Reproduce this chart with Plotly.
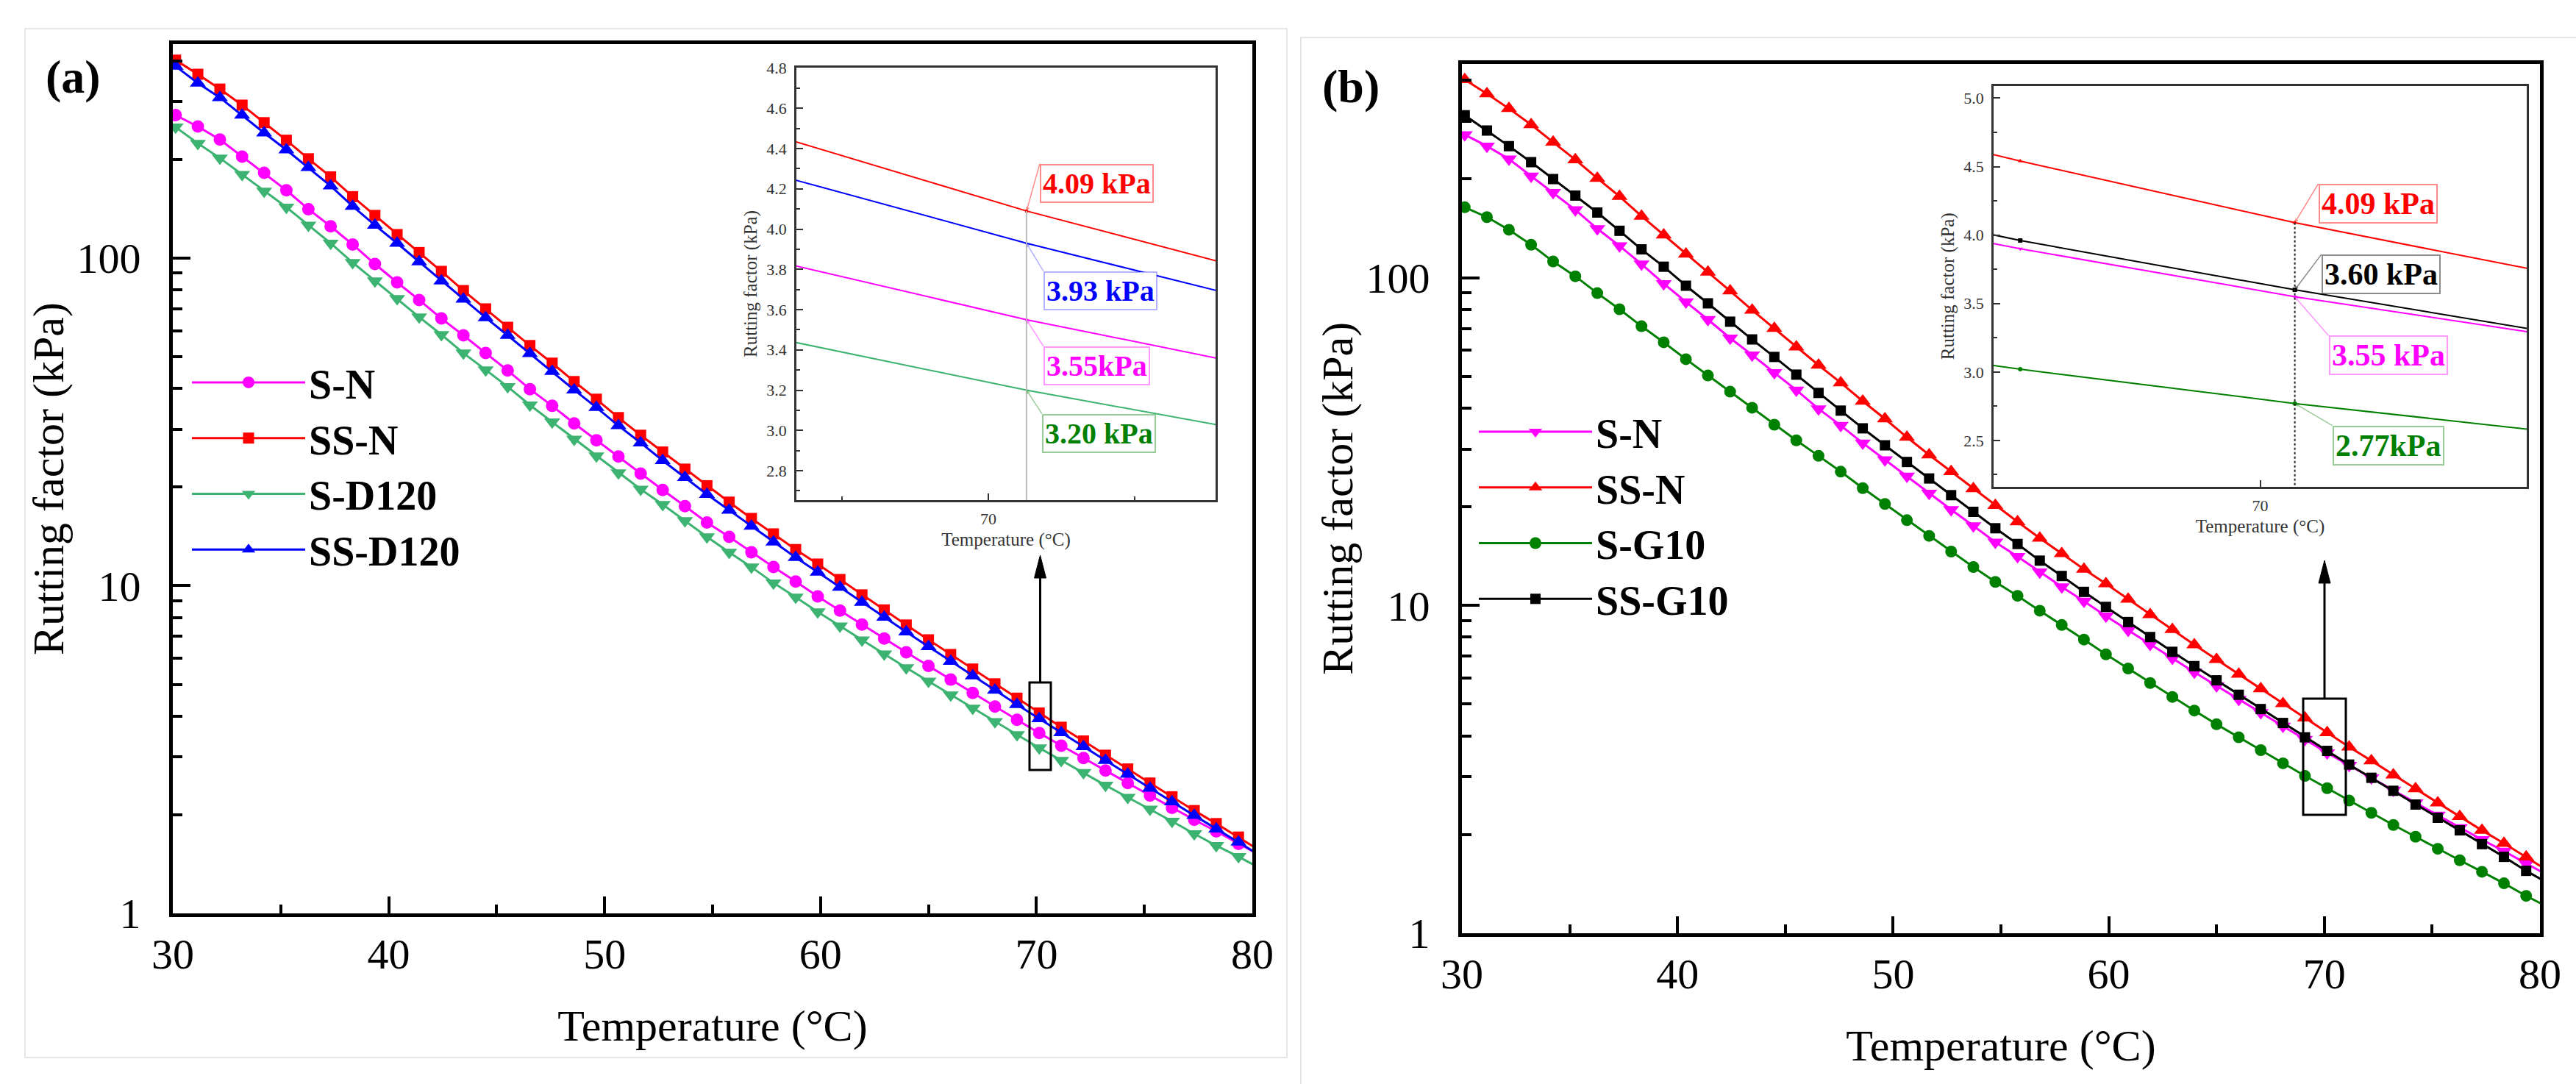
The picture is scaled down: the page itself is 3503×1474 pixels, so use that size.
import plotly.graph_objects as go

W, H = 3503, 1474
FONT = "Liberation Serif"

# ---------------- data ----------------
temps = [30.13, 31.16, 32.18, 33.21, 34.23, 35.26, 36.28, 37.31, 38.33, 39.36,
         40.39, 41.41, 42.44, 43.46, 44.49, 45.51, 46.54, 47.57, 48.59, 49.62,
         50.64, 51.67, 52.69, 53.72, 54.74, 55.77, 56.80, 57.82, 58.85, 59.87,
         60.90, 61.92, 62.95, 63.97, 65.00, 66.03, 67.05, 68.08, 69.10, 70.13,
         71.15, 72.18, 73.20, 74.23, 75.26, 76.28, 77.31, 78.33, 79.36, 80.38]

s_n = [273, 252, 230, 204, 182, 161, 141, 125, 110, 95.9,
       84.3, 74.5, 65.4, 58.1, 51.3, 45.4, 39.8, 35.4, 31.3, 27.8,
       24.8, 22.0, 19.6, 17.5, 15.6, 14.1, 12.65, 11.4, 10.3, 9.28,
       8.40, 7.61, 6.90, 6.26, 5.69, 5.17, 4.71, 4.28, 3.90, 3.55,
       3.25, 2.98, 2.73, 2.50, 2.29, 2.10, 1.93, 1.78, 1.63, 1.50]

ss_n = [402, 364, 328, 293, 259, 229, 201, 177, 154, 135,
        118, 104, 91.1, 79.6, 70.0, 61.5, 54.1, 47.8, 42.0, 37.1,
        32.6, 28.8, 25.6, 22.7, 20.2, 18.0, 16.05, 14.4, 12.9, 11.65,
        10.45, 9.38, 8.44, 7.59, 6.84, 6.17, 5.57, 5.02, 4.54, 4.09,
        3.70, 3.36, 3.04, 2.76, 2.50, 2.27, 2.06, 1.88, 1.71, 1.55]

s_d120 = [251, 224, 202, 180, 160, 143, 126, 111, 96.9, 85.2,
          75.2, 66.1, 58.4, 51.3, 45.6, 40.5, 35.6, 31.6, 28.0, 24.9,
          22.1, 19.7, 17.7, 15.8, 14.1, 12.65, 11.4, 10.2, 9.23, 8.32,
          7.53, 6.83, 6.19, 5.62, 5.11, 4.64, 4.23, 3.85, 3.51, 3.20,
          2.93, 2.69, 2.46, 2.26, 2.08, 1.91, 1.75, 1.61, 1.49, 1.37]

ss_d120 = [385, 342, 309, 273, 241, 214, 189, 166, 144, 126,
           111, 97.4, 85.2, 74.9, 65.8, 58.1, 51.1, 45.1, 39.6, 35.0,
           30.8, 27.3, 24.1, 21.4, 19.0, 17.0, 15.2, 13.6, 12.2, 11.0,
           9.89, 8.90, 8.02, 7.23, 6.52, 5.88, 5.31, 4.80, 4.34, 3.93,
           3.56, 3.23, 2.93, 2.66, 2.41, 2.19, 1.99, 1.81, 1.65, 1.50]

s_g10 = [164, 153, 140, 126, 112, 101, 89.7, 80.1, 71.1, 63.5,
         56.4, 50.3, 44.9, 40.1, 35.6, 31.9, 28.6, 25.6, 22.8, 20.4,
         18.2, 16.3, 14.6, 13.1, 11.8, 10.7, 9.64, 8.72, 7.87, 7.09,
         6.42, 5.80, 5.26, 4.78, 4.34, 3.96, 3.62, 3.30, 3.02, 2.77,
         2.54, 2.33, 2.14, 1.97, 1.81, 1.67, 1.54, 1.42, 1.30, 1.20]

ss_g10 = [313, 281, 252, 225, 200, 178, 158, 139, 122, 108,
          94.5, 83.5, 73.4, 64.8, 57.3, 50.6, 44.5, 39.3, 34.7, 30.8,
          27.4, 24.4, 21.7, 19.3, 17.2, 15.4, 13.7, 12.3, 11.0, 9.90,
          8.90, 8.01, 7.22, 6.53, 5.91, 5.34, 4.83, 4.38, 3.96, 3.60,
          3.27, 2.98, 2.72, 2.47, 2.25, 2.06, 1.87, 1.71, 1.55, 1.42]

x_major = [30, 40, 50, 60, 70, 80]
x_minor = [35, 45, 55, 65, 75]
y_major = [1, 10, 100]
y_minor = [2, 3, 4, 5, 6, 7, 8, 9, 20, 30, 40, 50, 60, 70, 80, 90, 200, 300, 400]
inset_a_y = [2.8, 3.0, 3.2, 3.4, 3.6, 3.8, 4.0, 4.2, 4.4, 4.6, 4.8]
inset_a_ym = [2.7, 2.9, 3.1, 3.3, 3.5, 3.7, 3.9, 4.1, 4.3, 4.5, 4.7]
inset_b_y = [2.5, 3.0, 3.5, 4.0, 4.5, 5.0]
inset_b_ym = [2.25, 2.75, 3.25, 3.75, 4.25, 4.75]
inset_x = [70]
inset_a_xm = [69.5, 70.5]
mark = 39  # index of the 70 °C point that is labelled in the insets

# series: name, values, colour, symbol, size
series_a = [("S-N", s_n, "#ff00ff", "circle", 17),
            ("SS-N", ss_n, "#ff0000", "square", 15),
            ("S-D120", s_d120, "#3cb371", "triangle-down", 19),
            ("SS-D120", ss_d120, "#0000ff", "triangle-up", 19)]
series_b = [("S-N", s_n, "#ff00ff", "triangle-down", 19),
            ("SS-N", ss_n, "#ff0000", "triangle-up", 19),
            ("S-G10", s_g10, "#008000", "circle", 16),
            ("SS-G10", ss_g10, "#000000", "square", 14)]


def fx(p):
    return p / W


def fy(p):
    return 1 - p / H


fig = go.Figure()

for name, vals, col, sym, sz in series_a:
    fig.add_trace(go.Scatter(x=temps, y=vals, name=name, mode="lines+markers",
                             line=dict(color=col, width=3),
                             marker=dict(symbol=sym, size=sz, color=col),
                             xaxis="x", yaxis="y", legend="legend"))
for name, vals, col, sym, sz in series_b:
    fig.add_trace(go.Scatter(x=temps, y=vals, name=name, mode="lines+markers",
                             line=dict(color=col, width=3),
                             marker=dict(symbol=sym, size=sz, color=col),
                             xaxis="x2", yaxis="y2", legend="legend2"))
# insets (same data, zoomed)
for name, vals, col, sym, sz in series_a:
    fig.add_trace(go.Scatter(x=temps, y=vals, name=name, mode="lines+markers",
                             line=dict(color=col, width=2),
                             marker=dict(symbol=sym, size=4, color=col),
                             xaxis="x3", yaxis="y3", showlegend=False))
for name, vals, col, sym, sz in series_b:
    fig.add_trace(go.Scatter(x=temps, y=vals, name=name, mode="lines+markers",
                             line=dict(color=col, width=2),
                             marker=dict(symbol=sym, size=6, color=col),
                             xaxis="x4", yaxis="y4", showlegend=False))

tickfont = dict(family=FONT, size=58, color="black")
titlefont = dict(family=FONT, size=60, color="black")


def main_x(dom, anchor):
    return dict(domain=dom, anchor=anchor, range=[30, 80], tickmode="array",
                tickvals=x_major, ticks="inside", ticklen=23, tickwidth=4,
                tickcolor="black", ticklabelstandoff=0, automargin=False,
                minor=dict(tickmode="array", tickvals=x_minor, ticks="inside",
                           ticklen=12, tickwidth=3.5, tickcolor="black"),
                showline=True, linewidth=5, linecolor="black", mirror=True,
                showgrid=False, zeroline=False, tickfont=tickfont,
                title=dict(text="Temperature (°C)", font=titlefont, standoff=46))


def main_y(dom, anchor):
    return dict(domain=dom, anchor=anchor, type="log", range=[0, 2.653],
                tickmode="array", tickvals=y_major, ticktext=["1", "10", "100"],
                ticks="inside", ticklen=24, tickwidth=4, tickcolor="black",
                ticklabelstandoff=27, automargin=False,
                minor=dict(tickmode="array", tickvals=y_minor, ticks="inside",
                           ticklen=13, tickwidth=3.5, tickcolor="black"),
                showline=True, linewidth=5, linecolor="black", mirror=True,
                showgrid=False, zeroline=False, tickfont=tickfont,
                title=dict(text="Rutting factor (kPa)", font=titlefont, standoff=0))


ifont = dict(family=FONT, size=22, color="#333333")
ititle = dict(family=FONT, size=25, color="#333333")


def inset_x_axis(dom, anchor, rng, minor_vals):
    d = dict(domain=dom, anchor=anchor, range=rng, tickmode="array", tickvals=inset_x,
             ticks="inside", ticklen=9, tickwidth=2, tickcolor="#333333",
             ticklabelstandoff=4, automargin=False,
             showline=True, linewidth=2.5, linecolor="#333333",
             mirror=True, showgrid=False, zeroline=False, tickfont=ifont,
             title=dict(text="Temperature (°C)", font=ititle, standoff=8))
    if minor_vals:
        d["minor"] = dict(tickmode="array", tickvals=minor_vals, ticks="inside",
                          ticklen=5, tickwidth=2, tickcolor="#333333")
    return d


def inset_y_axis(dom, anchor, rng, major, minor_vals):
    return dict(domain=dom, anchor=anchor, range=rng, tickmode="array", tickvals=major,
                tickformat=".1f", ticks="inside", ticklen=9, tickwidth=2,
                tickcolor="#333333", ticklabelstandoff=6, automargin=False,
                minor=dict(tickmode="array", tickvals=minor_vals, ticks="inside",
                           ticklen=5, tickwidth=2, tickcolor="#333333"),
                showline=True, linewidth=2.5, linecolor="#333333", mirror=True,
                showgrid=False, zeroline=False, tickfont=ifont,
                title=dict(text="Rutting factor (kPa)", font=ititle, standoff=6))


legend_common = dict(xanchor="left", yanchor="top", bgcolor="rgba(0,0,0,0)",
                     font=dict(family=FONT, size=56, color="black", weight="bold"),
                     itemwidth=154, tracegroupgap=0)

fig.update_layout(
    width=W, height=H, autosize=False,
    margin=dict(l=0, r=0, t=0, b=0, pad=0, autoexpand=False),
    paper_bgcolor="white", plot_bgcolor="white",
    font=dict(family=FONT, color="black"),
    xaxis=main_x([fx(235), fx(1703)], "y"),
    yaxis=main_y([fy(1242), fy(60)], "x"),
    xaxis2=main_x([fx(1988), fx(3454)], "y2"),
    yaxis2=main_y([fy(1269), fy(86.5)], "x2"),
    xaxis3=inset_x_axis([fx(1083), fx(1653)], "y3", [69.345, 70.775], inset_a_xm),
    yaxis3=inset_y_axis([fy(680), fy(92)], "x3", [2.654, 4.802], inset_a_y, inset_a_ym),
    xaxis4=inset_x_axis([fx(2711), fx(3436)], "y4", [69.0, 71.0], None),
    yaxis4=inset_y_axis([fy(661.5), fy(117)], "x4", [2.164, 5.088], inset_b_y, inset_b_ym),
    legend=dict(x=fx(256), y=fy(477), **legend_common),
    legend2=dict(x=fx(2006), y=fy(544), **legend_common),
    showlegend=True,
)

shapes = []
# faint panel frames
shapes.append(dict(type="rect", xref="paper", yref="paper", x0=fx(34), x1=fx(1750),
                   y0=fy(1438), y1=fy(39), line=dict(color="#e6e6e6", width=2)))
shapes.append(dict(type="rect", xref="paper", yref="paper", x0=fx(1769), x1=1.01,
                   y0=-0.01, y1=fy(51), line=dict(color="#e6e6e6", width=2)))
# zoom boxes and arrows
for (bx0, bx1, by0, by1, tip) in [(1400, 1429, 928, 1047, 755), (3132, 3190, 950, 1108, 762)]:
    cx = (bx0 + bx1) / 2
    shapes.append(dict(type="rect", xref="paper", yref="paper", x0=fx(bx0), x1=fx(bx1),
                       y0=fy(by1), y1=fy(by0), line=dict(color="black", width=3)))
    shapes.append(dict(type="line", xref="paper", yref="paper", x0=fx(cx), x1=fx(cx),
                       y0=fy(by0), y1=fy(tip + 28), line=dict(color="black", width=3)))
    shapes.append(dict(type="path", xref="paper", yref="paper",
                       path=f"M {fx(cx)},{fy(tip)} L {fx(cx - 8)},{fy(tip + 31)} "
                            f"L {fx(cx + 8)},{fy(tip + 31)} Z",
                       fillcolor="black", line=dict(color="black", width=1)))
# vertical marker lines in the insets
shapes.append(dict(type="line", xref="x3", yref="y3", x0=temps[mark], x1=temps[mark],
                   y0=ss_n[mark], y1=2.654, line=dict(color="#bdbdbd", width=2)))
shapes.append(dict(type="line", xref="x4", yref="y4", x0=temps[mark], x1=temps[mark],
                   y0=ss_n[mark], y1=2.164, line=dict(color="#222222", width=2, dash="dot")))

annotations = [
    dict(text="<b>(a)</b>", x=fx(99), y=fy(105), xref="paper", yref="paper",
         xanchor="center", yanchor="middle",
         showarrow=False, font=dict(family=FONT, size=64, color="black")),
    dict(text="<b>(b)</b>", x=fx(1837), y=fy(117), xref="paper", yref="paper",
         xanchor="center", yanchor="middle",
         showarrow=False, font=dict(family=FONT, size=64, color="black")),
]

# value call-outs: (axes, series, text, text colour, border colour, ax, ay, size)
callouts = [
    ("3", ss_n, "4.09 kPa", "#ff0000", "rgba(255,0,0,0.45)", 18, -64, 40),
    ("3", ss_d120, "3.93 kPa", "#0000ff", "rgba(0,0,255,0.30)", 23, 38, 40),
    ("3", s_n, "3.55kPa", "#ff00ff", "rgba(255,0,255,0.40)", 23, 36, 40),
    ("3", s_d120, "3.20 kPa", "#008000", "rgba(0,128,0,0.40)", 21, 32, 40),
    ("4", ss_n, "4.09 kPa", "#ff0000", "rgba(255,0,0,0.45)", 32, -53, 42),
    ("4", ss_g10, "3.60 kPa", "#000000", "rgba(0,0,0,0.45)", 36, -48, 42),
    ("4", s_n, "3.55 kPa", "#ff00ff", "rgba(255,0,255,0.40)", 46, 53, 42),
    ("4", s_g10, "2.77kPa", "#008000", "rgba(0,128,0,0.40)", 51, 30, 42),
]
for ax_id, vals, txt, tcol, bcol, axp, ayp, sz in callouts:
    annotations.append(dict(
        x=temps[mark], y=vals[mark], xref="x" + ax_id, yref="y" + ax_id,
        text=f"<b>{txt}</b>", showarrow=True, ax=axp, ay=ayp,
        xanchor="left", yanchor="top",
        font=dict(family=FONT, size=sz, color=tcol),
        bordercolor=bcol, borderwidth=2, borderpad=2, bgcolor="white",
        arrowcolor=bcol, arrowwidth=1.5, arrowhead=2, arrowsize=0.7))

fig.update_layout(shapes=shapes, annotations=annotations)

fig.write_html("out.html",
               config={"displayModeBar": False},
               post_script="document.body.style.margin='0';"
                           "document.body.style.overflow='hidden';")
